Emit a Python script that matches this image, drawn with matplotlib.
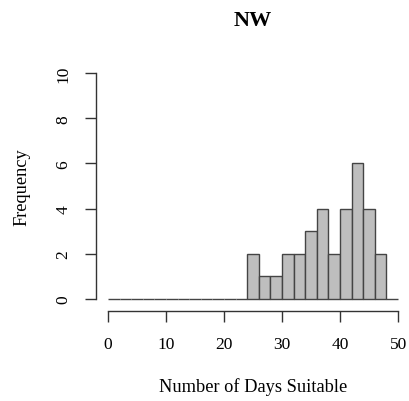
import matplotlib
matplotlib.use('Agg')
import matplotlib.pyplot as plt
import numpy as np

matplotlib.rcParams['font.family'] = 'serif'
matplotlib.rcParams['font.serif'] = ['Liberation Serif']

# histogram bins (width 2) and counts
bin_edges = list(range(0, 52, 2))
counts = [0] * 12 + [2, 1, 1, 2, 2, 3, 4, 2, 4, 6, 4, 2] + [0]
x_ticks = [0, 10, 20, 30, 40, 50]
y_ticks = [0, 2, 4, 6, 8, 10]

fig = plt.figure(figsize=(4.09, 4.02), dpi=100)
ax = fig.add_axes([0.2357, 0.2313, 0.766, 0.607])

ax.bar(bin_edges[:-1], counts, width=2, align='edge',
       color='#bebebe', edgecolor='#444444', linewidth=1.0)

ax.set_xlim(-2, 52)
ax.set_ylim(-0.4, 10.4)
for s in ['top', 'right']:
    ax.spines[s].set_visible(False)
ax.spines['left'].set_bounds(0, 10)
ax.spines['bottom'].set_bounds(0, 50)
ax.spines['bottom'].set_position(('outward', 2))
for s in ['left', 'bottom']:
    ax.spines[s].set_color('#333333')
    ax.spines[s].set_linewidth(1.0)

ax.set_xticks(x_ticks)
ax.set_yticks(y_ticks)
ax.tick_params(direction='out', length=8, width=1.0, color='#333333',
               labelsize=12.5, pad=10)
plt.setp(ax.get_yticklabels(), rotation=90, va='center')

ax.set_xlabel('Number of Days Suitable', fontsize=13.2, labelpad=18)
ax.set_ylabel('Frequency', fontsize=13.2, labelpad=18)
fig.text(0.6187, 1 - 21 / 402, 'NW', fontsize=16, fontweight='bold',
         ha='center', va='center')

plt.savefig('out.png', dpi=100)
